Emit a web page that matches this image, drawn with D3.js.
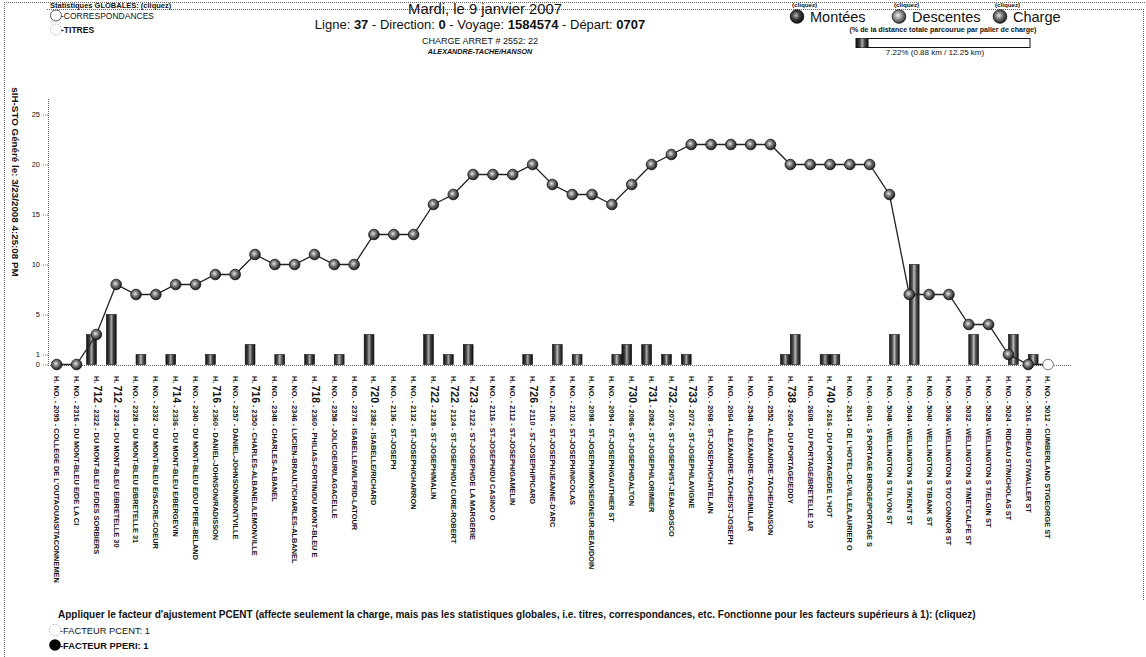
<!DOCTYPE html>
<html>
<head>
<meta charset="utf-8">
<script src="https://cdn.jsdelivr.net/npm/d3@7"></script>
<style>
  body { margin: 0; background: #fff; }
  svg { display: block; }
  text { font-family: Arial, "Liberation Sans", sans-serif; fill: #111; }
</style>
</head>
<body>
<svg id="chart" width="1146" height="657"></svg>
<script>
// Arrêts du voyage 1584574 (ligne 37, direction 0)
const stopHoraire = ["NO.","NO.","712","712","NO.","NO.","714","NO.","716","NO.",
  "716","NO.","NO.","718","NO.","NO.","720","NO.","NO.","722",
  "722","723","NO.","NO.","726","NO.","NO.","NO.","NO.","730",
  "731","732","733","NO.","NO.","NO.","NO.","738","NO.","740",
  "NO.","NO.","NO.","NO.","NO.","NO.","NO.","NO.","NO.","NO.","NO."];
const stopIds = ["2095","2316","2322","2324","2328","2332","2336","2340","2360","2357",
  "2350","2348","2346","2360","2358","2378","2382","2136","2132","2128",
  "2124","2122","2116","2112","2110","2106","2102","2098","2094","2086",
  "2082","2076","2072","2068","2064","2548","2552","2604","2608","2616",
  "2614","6041","5048","5044","5040","5036","5032","5028","5024","5016","5012"];
const stopNames = ["COLLEGE DE L'OUTAOUAIS/TACONNEMEN","DU MONT-BLEU E/DE LA CI","DU MONT-BLEU E/DES SORBIERS",
  "DU MONT-BLEU E/BRETELLE 30","DU MONT-BLEU E/BRETELLE 31","DU MONT-BLEU E/SACRE-COEUR",
  "DU MONT-BLEU E/BERGEVIN","DU MONT-BLEU E/DU PERE-BELAND","DANIEL-JOHNSON/RADISSON",
  "DANIEL-JOHNSON/MONTVILLE","CHARLES-ALBANEL/LEMONVILLE","CHARLES-ALBANEL",
  "LUCIEN-BRAULT/CHARLES-ALBANEL","PHILIAS-FORTIN/DU MONT-BLEU E","JOLICOEUR/LAGACELLE",
  "ISABELLE/WILFRID-LATOUR","ISABELLE/RICHARD","ST-JOSEPH","ST-JOSEPH/CHARRON",
  "ST-JOSEPH/MALIN","ST-JOSEPH/DU CURE-ROBERT","ST-JOSEPH/DE LA MARGERIE","ST-JOSEPH/DU CASINO O",
  "ST-JOSEPH/GAMELIN","ST-JOSEPH/PICARD","ST-JOSEPH/JEANNE-D'ARC","ST-JOSEPH/NICOLAS",
  "ST-JOSEPH/MONSEIGNEUR-BEAUDOIN","ST-JOSEPH/GAUTHIER ST","ST-JOSEPH/DALTON",
  "ST-JOSEPH/LORIMIER","ST-JOSEPH/ST-JEAN-BOSCO","ST-JOSEPH/LAVIGNE","ST-JOSEPH/CHATELAIN",
  "ALEXANDRE-TACHE/ST-JOSEPH","ALEXANDRE-TACHE/MILLAR","ALEXANDRE-TACHE/HANSON",
  "DU PORTAGE/EDDY","DU PORTAGE/BRETELLE 10","DU PORTAGE/DE L'HOT",
  "DE L'HOTEL-DE-VILLE/LAURIER O","S PORTAGE BRIDGE/PORTAGE S","WELLINGTON S T/LYON ST",
  "WELLINGTON S T/KENT ST","WELLINGTON S T/BANK ST","WELLINGTON S T/O'CONNOR ST",
  "WELLINGTON S T/METCALFE ST","WELLINGTON S T/ELGIN ST","RIDEAU ST/NICHOLAS ST",
  "RIDEAU ST/WALLER ST","CUMBERLAND ST/GEORGE ST"];

// Montées, descentes et charge à chaque arrêt
const montees = [0,0,3,5,0,0,1,0,1,0, 2,0,0,1,0,0,3,0,0,3,
  1,2,0,0,1,0,0,0,0,2, 2,1,1,0,0,0,0,1,0,1, 0,0,0,0,0,0,0,0,0,0,0];
const descentes = [0,0,0,0,1,0,0,0,0,0, 0,1,0,0,1,0,0,0,0,0,
  0,0,0,0,0,2,1,0,1,0, 0,0,0,0,0,0,0,3,0,1, 0,0,3,10,0,0,3,0,3,1,0];
const charge = [0,0,3,8,7,7,8,8,9,9, 11,10,10,11,10,10,13,13,13,16,
  17,19,19,19,20,18,17,17,16,18, 20,21,22,22,22,22,22,20,20,20, 20,20,17,7,7,7,4,4,1,0,0];

const yTicks = [0, 1, 5, 10, 15, 20, 25];

const svg = d3.select("#chart");
const defs = svg.append("defs");

// Boule 3D pour les points
function ball(id, light, mid, dark) {
  const g = defs.append("radialGradient").attr("id", id)
    .attr("cx", "42%").attr("cy", "42%").attr("r", "60%");
  g.append("stop").attr("offset", "0%").attr("stop-color", light);
  g.append("stop").attr("offset", "45%").attr("stop-color", mid);
  g.append("stop").attr("offset", "100%").attr("stop-color", dark);
}
ball("ballCharge", "#e6e6e6", "#777", "#1a1a1a");
ball("ballMont", "#bbb", "#444", "#050505");
ball("ballDesc", "#f2f2f2", "#9a9a9a", "#333");

function barGrad(id, edge, mid, center) {
  const g = defs.append("linearGradient").attr("id", id)
    .attr("x1", "0%").attr("x2", "100%").attr("y1", "0%").attr("y2", "0%");
  g.append("stop").attr("offset", "0%").attr("stop-color", edge);
  g.append("stop").attr("offset", "30%").attr("stop-color", mid);
  g.append("stop").attr("offset", "50%").attr("stop-color", center);
  g.append("stop").attr("offset", "70%").attr("stop-color", mid);
  g.append("stop").attr("offset", "100%").attr("stop-color", edge);
}
barGrad("barMont", "#0d0d0d", "#444", "#aaa");
barGrad("barDesc", "#151515", "#555", "#bdbdbd");

const dotted = sel => sel.attr("stroke", "#666").attr("stroke-width", 1)
  .attr("stroke-dasharray", "1,1").attr("fill", "none");

// Cadres pointillés
svg.append("line").attr("x1", 4.5).attr("x2", 4.5).attr("y1", 2).attr("y2", 657).call(dotted);
svg.append("line").attr("x1", 4).attr("x2", 1146).attr("y1", 2.5).attr("y2", 2.5).call(dotted);
svg.append("line").attr("x1", 47).attr("x2", 1143).attr("y1", 9.5).attr("y2", 9.5).call(dotted);
svg.append("line").attr("x1", 1143.5).attr("x2", 1143.5).attr("y1", 9).attr("y2", 600).call(dotted);

// Échelles
const x = d3.scaleBand().domain(d3.range(stopIds.length)).range([46.8, 1058]).padding(0);
const cx = i => x(i) + x.bandwidth() / 2;
const y = d3.scaleLinear().domain([0, 26.5]).range([364.5, 99.5]);
const barW = 9.8;

// Axe Y
const yAxis = d3.axisLeft(y).tickValues(yTicks).tickSize(5).tickPadding(3);
const gy = svg.append("g").attr("transform", "translate(48,0)").call(yAxis);
gy.select(".domain").remove();
gy.selectAll(".tick line").attr("stroke", "#777").attr("stroke-dasharray", "1,1");
gy.selectAll(".tick text").attr("font-size", 7.5).attr("fill", "#333")
  .style("font-family", "Arial, 'Liberation Sans', sans-serif");
svg.append("line").attr("x1", 48.5).attr("x2", 48.5).attr("y1", 99).attr("y2", 365).call(dotted);

// Ligne de base
svg.append("line").attr("x1", 48).attr("x2", 1072).attr("y1", 365.5).attr("y2", 365.5).call(dotted);

// Barres : montées à gauche, descentes à droite
svg.append("g").selectAll("rect").data(montees.map((v, i) => ({v, i})).filter(d => d.v > 0))
  .join("rect")
  .attr("x", d => cx(d.i) - barW).attr("width", barW)
  .attr("y", d => y(d.v)).attr("height", d => y(0) - y(d.v))
  .attr("fill", "url(#barMont)").attr("stroke", "#111").attr("stroke-width", 0.6);
svg.append("g").selectAll("rect").data(descentes.map((v, i) => ({v, i})).filter(d => d.v > 0))
  .join("rect")
  .attr("x", d => cx(d.i)).attr("width", barW)
  .attr("y", d => y(d.v)).attr("height", d => y(0) - y(d.v))
  .attr("fill", "url(#barDesc)").attr("stroke", "#111").attr("stroke-width", 0.6);

// Charge
const line = d3.line().x((d, i) => cx(i)).y(d => y(d));
svg.append("path").datum(charge).attr("d", line)
  .attr("fill", "none").attr("stroke", "#222").attr("stroke-width", 1.3);
svg.append("g").selectAll("circle").data(charge).join("circle")
  .attr("cx", (d, i) => cx(i)).attr("cy", d => y(d)).attr("r", 5.3)
  .attr("fill", (d, i) => i === charge.length - 1 ? "#fff" : "url(#ballCharge)")
  .attr("stroke", (d, i) => i === charge.length - 1 ? "#555" : "#111")
  .attr("stroke-width", 0.8);

// Étiquettes des arrêts
const lab = svg.append("g").selectAll("text").data(stopIds.map((s, i) => i)).join("text")
  .attr("transform", i => `translate(${cx(i) - 2.6},376) rotate(90)`)
  .attr("font-size", 7.4).attr("font-weight", "bold");
lab.append("tspan").text("H. ");
lab.append("tspan").text(i => stopHoraire[i])
  .attr("font-size", i => stopHoraire[i] === "NO." ? 7.4 : 10.5);
lab.append("tspan").text(i => ` - ${stopIds[i]} - ${stopNames[i]}`);

// Titre de l'axe Y
svg.append("text").attr("transform", "translate(12,182) rotate(90)")
  .attr("text-anchor", "middle").attr("font-size", 9.8).attr("font-weight", "bold")
  .text("sIH-STO Généré le: 3/23/2008 4:25:08 PM");

// En-tête central
svg.append("text").attr("x", 485).attr("y", 14).attr("text-anchor", "middle")
  .attr("font-size", 14.8).text("Mardi, le 9 janvier 2007");
const t2 = svg.append("text").attr("x", 480).attr("y", 29).attr("text-anchor", "middle")
  .attr("font-size", 13);
[["Ligne: ", false], ["37", true], [" - Direction: ", false], ["0", true],
 [" - Voyage: ", false], ["1584574", true], [" - Départ: ", false], ["0707", true]]
  .forEach(([s, b]) => t2.append("tspan").text(s).attr("font-weight", b ? "bold" : null));
svg.append("text").attr("x", 480).attr("y", 44).attr("text-anchor", "middle")
  .attr("font-size", 9).text("CHARGE ARRET # 2552: 22");
svg.append("text").attr("x", 480).attr("y", 54).attr("text-anchor", "middle")
  .attr("font-size", 7.2).attr("font-weight", "bold").attr("font-style", "italic")
  .text("ALEXANDRE-TACHE/HANSON");

// Statistiques globales
svg.append("text").attr("x", 50).attr("y", 8).attr("font-size", 7.5).attr("font-weight", "bold")
  .text("Statistiques GLOBALES: (cliquez)");
svg.append("circle").attr("cx", 56).attr("cy", 15.5).attr("r", 5.5)
  .attr("fill", "#fff").attr("stroke", "#444").attr("stroke-width", 0.9);
svg.append("text").attr("x", 61).attr("y", 18.5).attr("font-size", 8.5).text("-CORRESPONDANCES");
svg.append("circle").attr("cx", 56).attr("cy", 29.5).attr("r", 5.5)
  .attr("fill", "#fff").attr("stroke", "#999").attr("stroke-width", 0.8).attr("stroke-dasharray", "1.5,1.5");
svg.append("text").attr("x", 61).attr("y", 32.5).attr("font-size", 8.5).attr("font-weight", "bold").text("-TITRES");

// Légende
const legend = [
  {label: "Montées", grad: "ballMont", bx: 797},
  {label: "Descentes", grad: "ballDesc", bx: 899},
  {label: "Charge", grad: "ballCharge", bx: 1000}
];
legend.forEach(d => {
  svg.append("text").attr("x", d.bx - 5).attr("y", 7).attr("font-size", 6.2)
    .attr("font-weight", "bold").text("(cliquez)");
  svg.append("circle").attr("cx", d.bx).attr("cy", 16.5).attr("r", 6.8)
    .attr("fill", `url(#${d.grad})`).attr("stroke", "#111").attr("stroke-width", 0.8);
  svg.append("text").attr("x", d.bx + 13).attr("y", 21.5).attr("font-size", 14.5).text(d.label);
});
svg.append("text").attr("x", 943).attr("y", 32).attr("text-anchor", "middle")
  .attr("font-size", 7.1).attr("font-weight", "bold")
  .text("(% de la distance totale parcourue par palier de charge)");
const pctX = d3.scaleLinear().domain([0, 100]).range([856, 1030]);
svg.append("rect").attr("x", pctX(0)).attr("y", 38.5).attr("width", pctX(100) - pctX(0)).attr("height", 9)
  .attr("fill", "#fff").attr("stroke", "#111").attr("stroke-width", 1);
svg.append("rect").attr("x", pctX(0)).attr("y", 38.5).attr("width", pctX(7.22) - pctX(0)).attr("height", 9)
  .attr("fill", "url(#barMont)");
svg.append("text").attr("x", 935).attr("y", 55).attr("text-anchor", "middle")
  .attr("font-size", 8).text("7.22% (0.88 km / 12.25 km)");

// Facteurs d'ajustement
svg.append("text").attr("x", 58).attr("y", 618).attr("font-size", 10).attr("font-weight", "bold")
  .text("Appliquer le facteur d'ajustement PCENT (affecte seulement la charge, mais pas les statistiques globales, i.e. titres, correspondances, etc. Fonctionne pour les facteurs supérieurs à 1): (cliquez)");
svg.append("circle").attr("cx", 55).attr("cy", 630).attr("r", 5.8)
  .attr("fill", "#fff").attr("stroke", "#999").attr("stroke-width", 0.8).attr("stroke-dasharray", "1.5,1.5");
svg.append("text").attr("x", 60).attr("y", 633.5).attr("font-size", 9.3).text("-FACTEUR PCENT: 1");
svg.append("circle").attr("cx", 55).attr("cy", 645).attr("r", 5.8).attr("fill", "#000");
svg.append("text").attr("x", 60).attr("y", 648.5).attr("font-size", 9.3).attr("font-weight", "bold").text("-FACTEUR PPERI: 1");
</script>
</body>
</html>
